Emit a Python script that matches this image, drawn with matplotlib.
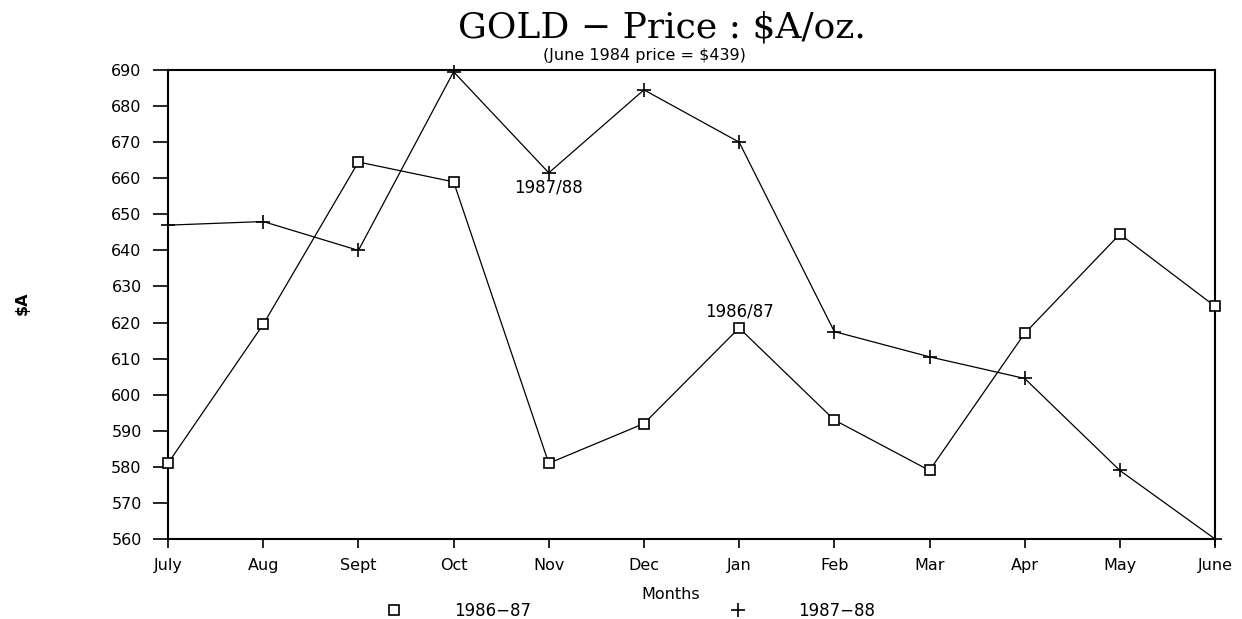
import matplotlib
matplotlib.use("Agg")
import matplotlib.pyplot as plt

months = ["July", "Aug", "Sept", "Oct", "Nov", "Dec", "Jan", "Feb", "Mar", "Apr", "May", "June"]
price_1986_87 = [581, 619.5, 664.5, 659, 581, 592, 618.5, 593, 579, 617, 644.5, 624.5]
price_1987_88 = [647, 648, 640, 689.5, 661.5, 684.5, 670, 617.5, 610.5, 604.5, 579, 560]
y_ticks = list(range(560, 691, 10))

fig = plt.figure(figsize=(12.42, 6.19), dpi=100)
ax = fig.add_axes([0.1353, 0.1292, 0.8430, 0.7577])

x = list(range(len(months)))
ax.plot(x, price_1986_87, color="black", lw=0.9, marker="s", markersize=7.5,
        markerfacecolor="white", markeredgecolor="black", markeredgewidth=1.2,
        label="1986\u221287", clip_on=False, zorder=3)
ax.plot(x, price_1987_88, color="black", lw=0.9, marker="+", markersize=10,
        markeredgewidth=1.2, label="1987\u221288", clip_on=False, zorder=3)

ax.set_xlim(0, len(months) - 1)
ax.set_ylim(560, 690)
ax.set_yticks(y_ticks)
ax.set_xticks(x)
ax.set_xticklabels(months)

for lab in ax.get_xticklabels() + ax.get_yticklabels():
    lab.set_fontfamily("DejaVu Sans")
    lab.set_fontsize(11.5)

ax.tick_params(axis="y", direction="out", length=11, width=1.2, pad=8)
ax.tick_params(axis="x", direction="out", length=6.5, width=1.2, pad=7)
for s in ax.spines.values():
    s.set_linewidth(1.5)
    s.set_color("black")

# annotations
ax.text(4, 657.3, "1987/88", ha="center", va="center", fontsize=12, family="DejaVu Sans")
ax.text(6, 623, "1986/87", ha="center", va="center", fontsize=12, family="DejaVu Sans")

# titles
fig.text(0.533, 0.955, "GOLD \u2212 Price : \\$A/oz.", ha="center", va="center",
         fontsize=26, family="DejaVu Serif")
fig.text(0.519, 0.911, "(June 1984 price = \\$439)", ha="center", va="center",
         fontsize=11.5, family="DejaVu Sans")
fig.text(0.018, 0.51, "\\$A", rotation=90, ha="center", va="center",
         fontsize=11.5, family="DejaVu Sans", weight="bold")
fig.text(0.540, 0.039, "Months", ha="center", va="center", fontsize=11.5, family="DejaVu Sans")

leg = ax.legend(loc="center", bbox_to_anchor=(0.507, 0.013), bbox_transform=fig.transFigure,
                ncol=2, frameon=False, handlelength=1.2, handletextpad=3.0,
                columnspacing=11.8, prop=dict(family="DejaVu Sans", size=12))
for h in leg.legend_handles:
    h.set_linestyle("none")

fig.savefig("out.png", dpi=100)
